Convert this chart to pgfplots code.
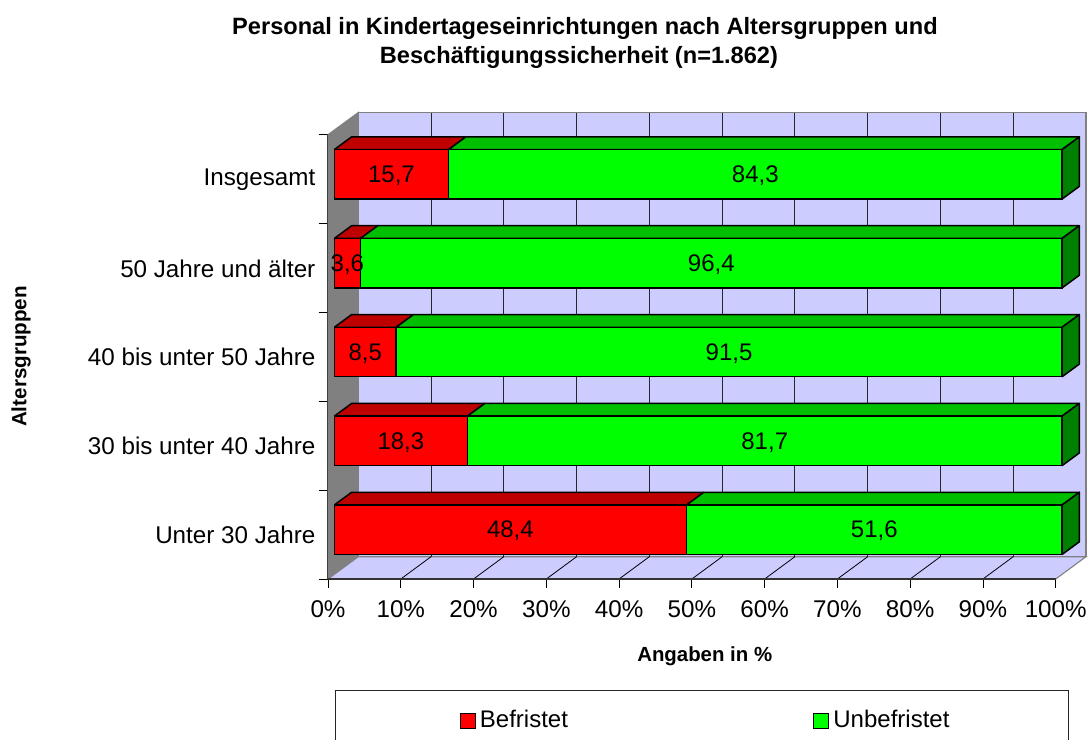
\documentclass[border=0pt]{standalone}
\usepackage{pgfplots}
\usepackage{fontspec}
\setmainfont{Liberation Sans}
\pgfplotsset{compat=1.18}
\definecolor{wallc}{HTML}{CCCCFF}
\definecolor{sidec}{HTML}{808080}
\definecolor{redtop}{HTML}{BF0000}
\definecolor{greentop}{HTML}{00BF00}
\definecolor{greenside}{HTML}{008000}
\definecolor{barred}{HTML}{FF0000}
\definecolor{bargreen}{HTML}{00FF00}
% top face of a bar in row #1 from value #2 to value #3
\newcommand{\topface}[4]{%
  \pgfmathsetmacro\xa{#2+0.866}\pgfmathsetmacro\xb{#3+0.866}%
  \pgfmathsetmacro\xc{#3+0.866+2.38}\pgfmathsetmacro\xd{#2+0.866+2.38}%
  \pgfmathsetmacro\ya{#1+0.8328}\pgfmathsetmacro\yb{#1+0.8328+0.143}%
  \edef\temp{\noexpand\addplot[fill=#4,draw=black,line width=0.75pt,line join=round] coordinates {(\xa,\ya) (\xb,\ya) (\xc,\yb) (\xd,\yb) (\xa,\ya)};}\temp}
\newcommand{\sideface}[1]{%
  \pgfmathsetmacro\ya{#1+0.2757}\pgfmathsetmacro\yb{#1+0.8328}%
  \pgfmathsetmacro\yc{#1+0.8328+0.143}\pgfmathsetmacro\yd{#1+0.2757+0.143}%
  \edef\temp{\noexpand\addplot[fill=greenside,draw=black,line width=0.75pt,line join=round] coordinates {(100.866,\ya) (100.866,\yb) (103.246,\yc) (103.246,\yd) (100.866,\ya)};}\temp}
\begin{document}
\begin{tikzpicture}
\useasboundingbox (0pt,0pt) rectangle (544.5pt,-370pt);
\begin{axis}[
  at={(164pt,-289.5pt)},anchor=south west,
  name=back,
  scale only axis,width=379pt,height=233.25pt,
  xmin=0,xmax=104.16,ymin=0,ymax=5.25,
  clip=false,
  axis lines=left,
  axis line style={draw=none,-},
  tick align=outside,
  major tick length=4.7pt,
  tick style={black,line width=0.45pt},
  xtick={0,10,...,100},
  xticklabels={0\%,10\%,20\%,30\%,40\%,50\%,60\%,70\%,80\%,90\%,100\%},
  ytick={0,1,2,3,4,5},
  yticklabels={},
  extra y ticks={0.495,1.495,2.495,3.495,4.495},
  extra y tick labels={Unter 30 Jahre,30 bis unter 40 Jahre,40 bis unter 50 Jahre,50 Jahre und älter,Insgesamt},
  extra y tick style={major tick length=0pt},
  tick label style={font=\fontsize{12.1}{14}\selectfont},
  xticklabel style={yshift=-2.6pt},
  yticklabel style={xshift=-2.8pt},
  title={Personal in Kindertageseinrichtungen nach Altersgruppen und\\Beschäftigungssicherheit (n=1.862)\hspace*{6pt}},
  title style={at={(axis description cs:0.339,1.123)},anchor=center,align=center,font=\fontsize{11.8}{14.5}\selectfont\bfseries},
  xlabel={Angaben in \%},
  xlabel style={at={(axis description cs:0.497,-0.165)},anchor=center,font=\fontsize{10.2}{12}\selectfont\bfseries},
  ylabel={Altersgruppen},
  ylabel style={at={(axis description cs:-0.405,0.477)},anchor=center,rotate=0,font=\fontsize{10.3}{12}\selectfont\bfseries},
]
% back wall, side wall, floor
\addplot[fill=wallc,draw=sidec,line width=0.55pt] coordinates {(4.16,0.251) (104.16,0.251) (104.16,5.25) (4.16,5.25) (4.16,0.251)};
\addplot[fill=sidec,draw=sidec,line width=0.55pt] coordinates {(0,0) (4.16,0.251) (4.16,5.25) (0,5) (0,0)};
\addplot[fill=wallc,draw=sidec,line width=0.55pt] coordinates {(0,0) (100,0) (104.16,0.251) (4.16,0.251) (0,0)};
% grid on the wall and floor
\pgfplotsinvokeforeach{10,20,...,90}{
  \draw[black!70!sidec,line width=0.45pt] (axis cs:#1+4.16,0.251) -- (axis cs:#1+4.16,5.25);
  \draw[black,line width=0.4pt] (axis cs:#1,0) -- (axis cs:#1+4.16,0.251);
}
\draw[black!80,line width=0.6pt] (axis cs:0,0) -- (axis cs:100,0);
\draw[black!75,line width=0.5pt] (axis cs:0,0) -- (axis cs:0,5);
% top and side faces
\topface{0}{0}{48.4}{redtop}\topface{0}{48.4}{100}{greentop}\sideface{0}
\topface{1}{0}{18.3}{redtop}\topface{1}{18.3}{100}{greentop}\sideface{1}
\topface{2}{0}{8.5}{redtop}\topface{2}{8.5}{100}{greentop}\sideface{2}
\topface{3}{0}{3.6}{redtop}\topface{3}{3.6}{100}{greentop}\sideface{3}
\topface{4}{0}{15.7}{redtop}\topface{4}{15.7}{100}{greentop}\sideface{4}
\end{axis}
\begin{axis}[
  at={(164pt,-289.5pt)},anchor=south west,
  scale only axis,width=379pt,height=233.25pt,
  xmin=-0.866,xmax=103.294,ymin=0,ymax=5.25,
  clip=false,
  hide axis,
  xbar stacked,
  bar width=24.7pt,
  visualization depends on={rawx \as \rawxv},
  nodes near coords={\pgfmathprintnumber[fixed,fixed zerofill,precision=1,use comma,assume math mode=true]{\rawxv}},
  every node near coord/.append style={anchor=center,yshift=-0.7pt,font=\fontsize{12}{14}\selectfont,text=black,inner sep=0pt},
  legend columns=2,
  legend image code/.code={\path (0pt,0pt); \draw[#1,draw=black,line width=0.5pt] (4.5pt,-3.7pt) rectangle (12.1pt,3.7pt);},
  legend style={
    at={(axis description cs:0.0092,-0.238)},anchor=north west,
    draw=black!85,line width=0.5pt,fill=white,
    inner xsep=57.5pt,inner ysep=8pt,
    font=\fontsize{12}{14}\selectfont,
    /tikz/every even column/.append style={column sep=116pt},
    cells={anchor=west},
  },
]
\addplot[fill=barred,draw=black,line width=0.75pt] coordinates {(48.4,0.5543) (18.3,1.5543) (8.5,2.5543) (3.6,3.5543) (15.7,4.5543)};
\addlegendentry{Befristet}
\addplot[fill=bargreen,draw=black,line width=0.75pt] coordinates {(51.6,0.5543) (81.7,1.5543) (91.5,2.5543) (96.4,3.5543) (84.3,4.5543)};
\addlegendentry{Unbefristet}
\end{axis}
\end{tikzpicture}
\end{document}
